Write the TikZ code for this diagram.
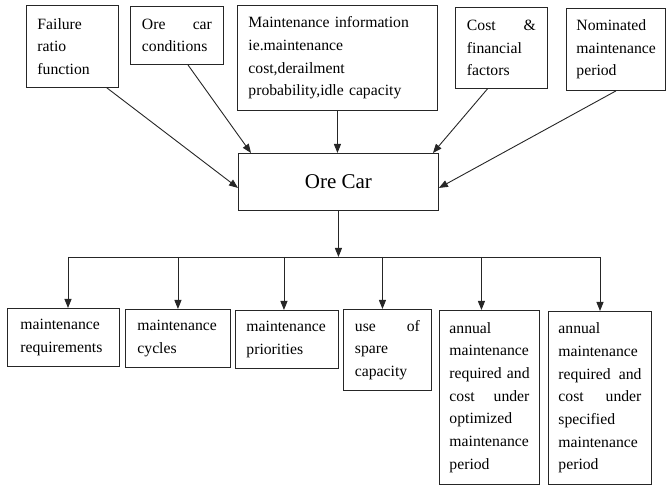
\documentclass[tikz,border=0pt]{standalone}
\usepackage{fontspec}
\setmainfont{Liberation Serif}
\usetikzlibrary{arrows.meta}
\begin{document}
\begin{tikzpicture}[x=1pt,y=-1pt,
  box/.style={draw=black!85, line width=0.9pt, anchor=north west, inner sep=0pt, align=left,
    font=\fontsize{15.7}{22.7}\selectfont},
  arr/.style={draw=black!85, line width=0.9pt, -{Triangle[length=9pt,width=7pt]}},
  ln/.style={draw=black!85, line width=0.9pt}]
\useasboundingbox (0,0) rectangle (672,486);
% top boxes
\node[box, minimum width=92pt, minimum height=82pt, text width=70pt] (fail) at (26,5)
  {Failure\\ratio\\function};
\node[box, minimum width=93pt, minimum height=58pt, text width=70pt] (cond) at (130,6)
  {Ore\hfill car\\conditions};
\node[box, minimum width=200pt, minimum height=105pt, text width=178pt] (info) at (237,5)
  {Maintenance information\\ie.maintenance\\cost,derailment\\probability,idle capacity};
\node[box, minimum width=92pt, minimum height=81pt, text width=69pt] (cost) at (455,7)
  {Cost\hfill\&\\financial\\factors};
\node[box, minimum width=99pt, minimum height=82pt, text width=79pt] (nom) at (566,8)
  {Nominated\\maintenance\\period};
% centre
\node[box, minimum width=200pt, minimum height=57pt, align=center, font=\fontsize{21}{25}\selectfont] (ore) at (238,153) {Ore Car};
% bottom boxes
\node[box, minimum width=112pt, minimum height=58pt, text width=86pt] (b1) at (7,308)
  {maintenance\\requirements};
\node[box, minimum width=105pt, minimum height=58pt, text width=81pt] (b2) at (125,309)
  {maintenance\\cycles};
\node[box, minimum width=103pt, minimum height=58pt, text width=81pt] (b3) at (235,310)
  {maintenance\\priorities};
\node[box, minimum width=88pt, minimum height=81pt, text width=65pt] (b4) at (343,309)
  {use\hfill of\\spare\\capacity};
\node[box, minimum width=100pt, minimum height=174pt, text width=80pt] (b5) at (439,310)
  {annual\\maintenance\\\mbox{required and}\\cost\hfill under\\optimized\\maintenance\\period};
\node[box, minimum width=103pt, minimum height=173pt, text width=83pt] (b6) at (548,311)
  {annual\\maintenance\\required\hfill and\\cost\hfill under\\specified\\maintenance\\period};
% inputs to ore car
\draw[arr] ([xshift=-12pt]fail.south east) -- ([yshift=-6pt]ore.west);
\draw[arr] ([xshift=11pt]cond.south) -- ([xshift=13pt]ore.north west);
\draw[arr] (info.south) -- (info.south |- ore.north);
\draw[arr] ([xshift=-14pt]cost.south) -- ([xshift=-6pt]ore.north east);
\draw[arr] (nom.south) -- ([yshift=-6pt]ore.east);
% bus
\coordinate (busL) at (68,257);
\coordinate (busR) at (600,257);
\draw[arr] (ore.south) -- (ore.south |- busL);
\draw[ln] (busL) -- (busR);
\draw[arr] (busL) -- (busL |- b1.north);
\draw[arr] (b2.north |- busL) -- (b2.north);
\draw[arr] ([xshift=-3pt]b3.north |- busL) -- ([xshift=-3pt]b3.north);
\draw[arr] ([xshift=-5pt]b4.north |- busL) -- ([xshift=-5pt]b4.north);
\draw[arr] ([xshift=-8pt]b5.north |- busL) -- ([xshift=-8pt]b5.north);
\draw[arr] (busR) -- (busR |- b6.north);
\end{tikzpicture}
\end{document}
